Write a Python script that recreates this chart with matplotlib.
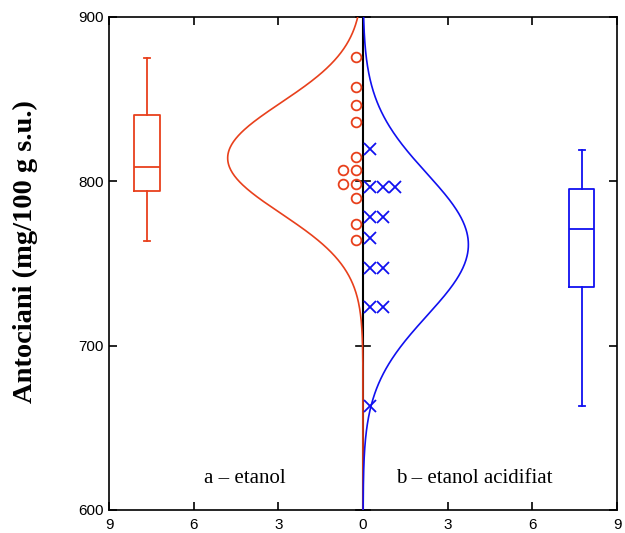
import numpy as np
import matplotlib
matplotlib.use('Agg')
import matplotlib.pyplot as plt

# ---- data ----
etanol = [875.8, 857.6, 846.6, 836.1, 814.8, 806.7, 806.7, 798.5, 798.5, 790.0, 774.2, 764.3]
etanol_acid = [819.5, 796.7, 796.7, 796.7, 778.5, 778.5, 765.7, 747.4, 747.4, 723.7, 723.7, 663.2]
box_etanol = dict(whislo=763.9, q1=794.0, med=808.9, q3=840.5, whishi=875.2)
box_acid = dict(whislo=663.2, q1=735.5, med=771.0, q3=795.3, whishi=819.0)
group_labels = ['a – etanol', 'b – etanol acidifiat']
ylabel_text = 'Antociani (mg/100 g s.u.)'
xticks = [-9, -6, -3, 0, 3, 6, 9]
xticklabels = ['9', '6', '3', '0', '3', '6', '9']
yticks = [600, 700, 800, 900]

RED = '#e8401c'
BLUE = '#1010f0'

fig = plt.figure(figsize=(6.25, 5.33), dpi=100)
ax = fig.add_axes([109/625, 23/533, 508/625, 493/533])
ax.set_xlim(-9, 9)
ax.set_ylim(600, 900)

# center line with its ticks
ax.plot([0, 0], [600, 900], color='black', lw=1.5, zorder=2)
for yt in yticks:
    ax.plot([-0.25, 0.25], [yt, yt], color='black', lw=1.2, zorder=2, clip_on=False)

# fitted normal curves
yy = np.linspace(600, 900, 500)
fit_scale = 405.0
for data, sign, col in [(etanol, -1, RED), (etanol_acid, 1, BLUE)]:
    d = np.asarray(data)
    mu, sd = d.mean(), d.std(ddof=1)
    dens = fit_scale * np.exp(-0.5 * ((yy - mu) / sd) ** 2) / (sd * np.sqrt(2 * np.pi))
    ax.plot(sign * dens, yy, color=col, lw=1.2, zorder=3)

# stacked dots
def stack_offsets(vals):
    xs = []
    counts = {}
    for v in vals:
        k = counts.get(v, 0)
        counts[v] = k + 1
        xs.append(0.25 + 0.45 * k)
    return np.array(xs)

xe = -stack_offsets(etanol)
ax.plot(xe, etanol, linestyle='none', marker='o', ms=7, mfc='none', mec=RED, mew=1.3, zorder=4)
xa = stack_offsets(etanol_acid)
ax.plot(xa, etanol_acid, linestyle='none', marker='x', ms=8, mec=BLUE, mew=1.3, zorder=4)

# boxplots
for st, pos, col in [(box_etanol, -7.65, RED), (box_acid, 7.75, BLUE)]:
    s = dict(st)
    s['fliers'] = []
    ax.bxp([s], positions=[pos], widths=0.9, showfliers=False, capwidths=[0.2],
           boxprops=dict(color=col, lw=1.3), whiskerprops=dict(color=col, lw=1.3, linestyle='-'),
           capprops=dict(color=col, lw=1.3), medianprops=dict(color=col, lw=1.3),
           manage_ticks=False)

# group labels
ax.text(-4.2, 619, group_labels[0], ha='center', va='center', fontsize=15, family='Liberation Serif')
ax.text(3.95, 619, group_labels[1], ha='center', va='center', fontsize=15, family='Liberation Serif')

# axes styling
ax.set_xticks(xticks)
ax.set_xticklabels(xticklabels, family='Liberation Sans', fontsize=11)
ax.set_yticks(yticks)
ax.set_yticklabels([str(v) for v in yticks], family='Liberation Sans', fontsize=11)
ax.tick_params(direction='in', length=6, width=1.2, top=True, right=True, pad=4)
ax.tick_params(axis='x', pad=6)
for sp in ax.spines.values():
    sp.set_linewidth(1.2)

ax.set_ylabel(ylabel_text, family='Liberation Serif', fontweight='bold', fontsize=20.5)
ax.yaxis.set_label_coords(-0.14, 0.524)

fig.savefig('out.png', dpi=100)
